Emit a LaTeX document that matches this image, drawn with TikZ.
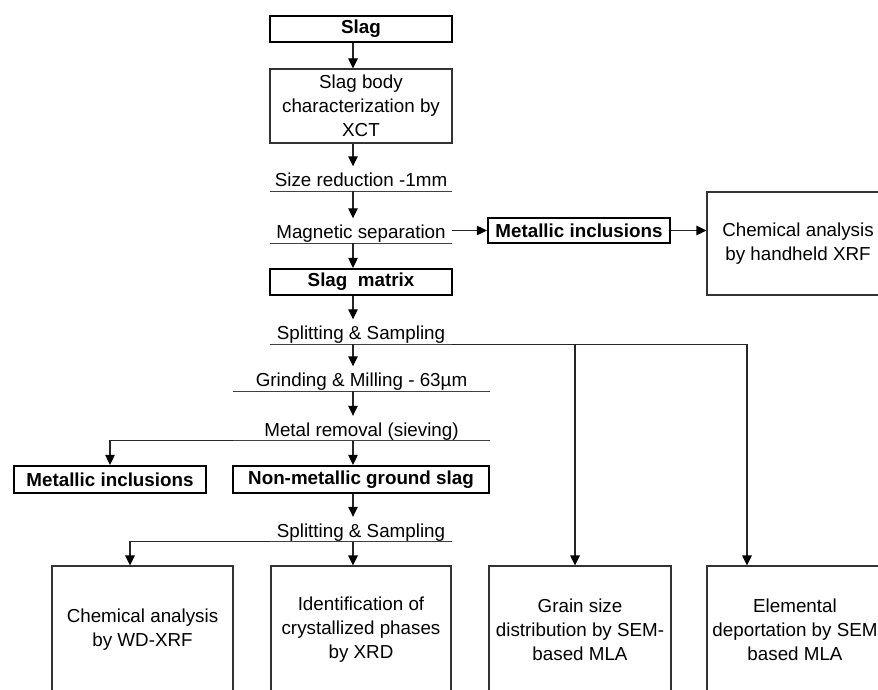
\documentclass[tikz,border=0pt]{standalone}
\usepackage{fontspec}
\setmainfont{Liberation Sans}
\usetikzlibrary{arrows.meta}
\begin{document}
\begin{tikzpicture}[x=1pt,y=-1pt,
  every node/.style={font=\fontsize{18.8pt}{24pt}\selectfont},
  thinbox/.style={draw=black!80, line width=1.1pt, inner sep=0pt, align=center},
  boldbox/.style={draw=black, line width=2.2pt, inner sep=0pt, align=center,
    font=\fontsize{18.8pt}{24pt}\selectfont\bfseries},
  steptext/.style={inner sep=0pt, text height=20pt, text depth=4.5pt, anchor=base},
  uline/.style={draw=black!75, line width=1.1pt},
  conn/.style={draw=black!85, line width=1.1pt},
  arr/.style={conn, -{Triangle[length=10pt,width=9.5pt,color=black]}}]
\useasboundingbox (0,0) rectangle (878,690);
\clip (0,0) rectangle (878,690);
\fill[white] (0,0) rectangle (878,690);
\coordinate (cx) at (353,0);

% main column
\node[boldbox, minimum width=182pt, minimum height=26pt] (slag) at (361,29) {Slag};
\node[thinbox, minimum width=182pt, minimum height=74pt] (body) at (361,106)
  {Slag body\\characterization by\\XCT};
\node[steptext, minimum width=182pt] (sizered) at (361,186.5) {Size reduction -1mm};
\node[steptext, minimum width=182pt] (magsep) at (361,238.5) {Magnetic separation};
\node[boldbox, minimum width=182pt, minimum height=25pt] (mi1) at (579,230.5) {Metallic inclusions};
\node[thinbox, minimum width=182pt, minimum height=103pt] (hh) at (798,243.5)
  {Chemical analysis\\by handheld XRF};
\node[boldbox, minimum width=182pt, minimum height=26pt] (matrix) at (361,282) {Slag\ \ matrix};
\node[steptext, minimum width=182pt] (split1) at (361,339.5) {Splitting \& Sampling};
\node[steptext, minimum width=257pt] (grind) at (361.5,386.5) {Grinding \& Milling - 63µm};
\node[steptext, minimum width=257pt] (metal) at (361.5,436) {Metal removal (sieving)};
\node[boldbox, minimum width=192pt, minimum height=27pt] (mi2) at (110,479.5) {Metallic inclusions};
\node[boldbox, minimum width=256pt, minimum height=27pt] (nonmet) at (361,479.5) {Non-metallic ground slag};
\node[steptext, minimum width=182pt] (split2) at (361,537) {Splitting \& Sampling};

% bottom boxes
\node[thinbox, minimum width=181pt, minimum height=128pt] (b1) at (142.5,630)
  {Chemical analysis\\by WD-XRF};
\node[thinbox, minimum width=180pt, minimum height=128pt] (b2) at (361,630)
  {Identification of\\crystallized phases\\by XRD};
\node[thinbox, minimum width=182pt, minimum height=128pt] (b3) at (580,630)
  {Grain size\\distribution by SEM-\\based MLA};
\node[thinbox, minimum width=176pt, minimum height=128pt] (b4) at (795,630)
  {Elemental\\deportation by SEM\\based MLA};

% underlines
\foreach \n in {sizered,magsep,split1,grind,metal,split2}
  \draw[uline] (\n.south west) -- (\n.south east);

% vertical connectors in the main column
\draw[arr] (slag.south -| cx) -- (body.north -| cx);
\draw[arr] (body.south -| cx) -- (sizered.north -| cx);
\draw[arr] (sizered.south -| cx) -- (magsep.north -| cx);
\draw[arr] (magsep.south -| cx) -- (matrix.north -| cx);
\draw[arr] (matrix.south -| cx) -- (split1.north -| cx);
\draw[arr] (split1.south -| cx) -- (grind.north -| cx);
\draw[arr] (grind.south -| cx) -- (metal.north -| cx);
\draw[arr] (metal.south -| cx) -- (nonmet.north -| cx);
\draw[arr] (nonmet.south -| cx) -- (split2.north -| cx);
\draw[arr] (split2.south -| cx) -- (b2.north -| cx);

% side branches
\draw[arr] (mi1.west -| magsep.east) -- (mi1.west);
\draw[arr] (mi1.east) -- (hh.west |- mi1.east);
\draw[arr] (metal.south west) -| (mi2.north);
\draw[arr] (split2.south west) -| ([xshift=-12.5pt]b1.north);
\draw[arr] (split1.south east) -| ([xshift=-48pt]b4.north);
\draw[arr] ([xshift=-5pt]b3.north |- split1.south) -- ([xshift=-5pt]b3.north);
\end{tikzpicture}
\end{document}
